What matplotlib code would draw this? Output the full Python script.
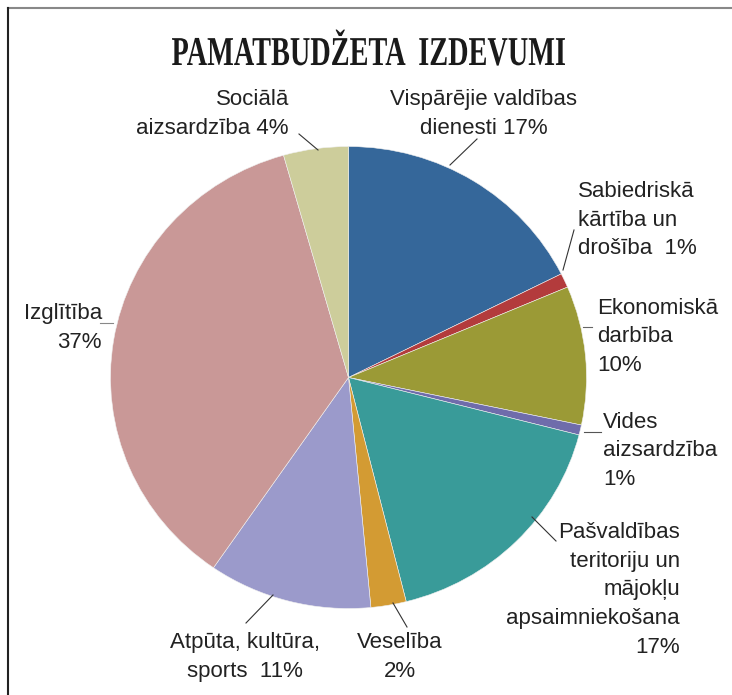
import matplotlib
matplotlib.use('agg')
import matplotlib.pyplot as plt
from matplotlib.lines import Line2D
from matplotlib.textpath import TextPath
from matplotlib.patches import PathPatch
from matplotlib.font_manager import FontProperties
from matplotlib.transforms import Affine2D

# budget shares (percent of total), clockwise from 12 o'clock
categories = ["Vispārējie valdības dienesti", "Sabiedriskā kārtība un drošība",
              "Ekonomiskā darbība", "Vides aizsardzība",
              "Pašvaldības teritoriju un mājokļu apsaimniekošana", "Veselība",
              "Atpūta, kultūra, sports", "Izglītība", "Sociālā aizsardzība"]
shares = [17.6, 1.0, 9.7, 0.7, 17.1, 2.4, 11.1, 36.0, 4.4]
colors = ["#35679a", "#b33b3c", "#9b9a36", "#6f6cab", "#399b99",
          "#d39b33", "#9b9acb", "#c99897", "#cdcd9b"]
labels = ["Vispārējie valdības\ndienesti 17%", "Sabiedriskā\nkārtība un\ndrošība  1%",
          "Ekonomiskā\ndarbība\n10%", "Vides\naizsardzība\n1%",
          "Pašvaldības\nteritoriju un\nmājokļu\napsaimniekošana\n17%", "Veselība\n2%",
          "Atpūta, kultūra,\nsports  11%", "Izglītība\n37%", "Sociālā\naizsardzība 4%"]
title = "PAMATBUDŽETA  IZDEVUMI"

W, H = 732, 695
fig = plt.figure(figsize=(W / 100, H / 100), dpi=100)

# pie in its own axes; the printed pie is slightly wider than tall
squash = 238 / 231
pax = fig.add_axes([0, 0, 1, 1])
pax.pie(shares, colors=colors, startangle=90, counterclock=False,
        center=(348.5, (H - 377.5) * squash), radius=238,
        wedgeprops=dict(edgecolor='#f0f0f0', linewidth=0.4))
pax.set_aspect('auto')
pax.set_xlim(0, W)
pax.set_ylim(0, H * squash)
pax.axis('off')

# overlay in pixel coordinates (y down) for text and leaders
ax = fig.add_axes([0, 0, 1, 1])
ax.set_xlim(0, W)
ax.set_ylim(H, 0)
ax.axis('off')
ax.patch.set_alpha(0)

# frame
ax.add_line(Line2D([8, W], [8, 8], color='#888888', lw=1.5))
ax.add_line(Line2D([8, 8], [8, H], color='#222222', lw=1.5))

# condensed serif title: squeeze a bold serif path horizontally
tp = TextPath((0, 0), title, size=41,
              prop=FontProperties(family='Liberation Serif', weight='bold'))
ext = tp.get_extents()
sx = 393 / ext.width
tr = Affine2D().translate(-ext.x0, 0).scale(sx, -1).translate(172, 65)
ax.add_patch(PathPatch(tr.transform_path(tp), facecolor='#1a1a1a', edgecolor='none'))

font = dict(fontsize=16, color='#222222', family=['Liberation Sans'], linespacing=1.48)

# label text: (x, y, ha), leader: (x0, y0, x1, y1, colour)
label_pos = [(484, 114, 'center'), (578, 220, 'left'), (597, 337, 'left'),
             (603, 451, 'left'), (680, 590, 'right'), (400, 657, 'center'),
             (245, 657, 'center'), (102, 328, 'right'), (289, 114, 'right')]
leaders = [(450, 165, 477, 139, '#333333'), (563, 270, 574, 230, '#333333'),
           (583, 327, 592, 327, '#666666'), (584, 432, 601, 432, '#555555'),
           (532, 517, 556, 541, '#333333'), (393, 603, 407, 627, '#333333'),
           (273, 595, 246, 623, '#333333'), (100, 323, 113, 323, '#888888'),
           (299, 134, 318, 150, '#333333')]

for lab, (x, y, ha), (x0, y0, x1, y1, c) in zip(labels, label_pos, leaders):
    ax.text(x, y, lab, ha=ha, va='center', multialignment=ha, **font)
    ax.add_line(Line2D([x0, x1], [y0, y1], color=c, lw=0.8))

fig.savefig('out.png', dpi=100, facecolor='white')
